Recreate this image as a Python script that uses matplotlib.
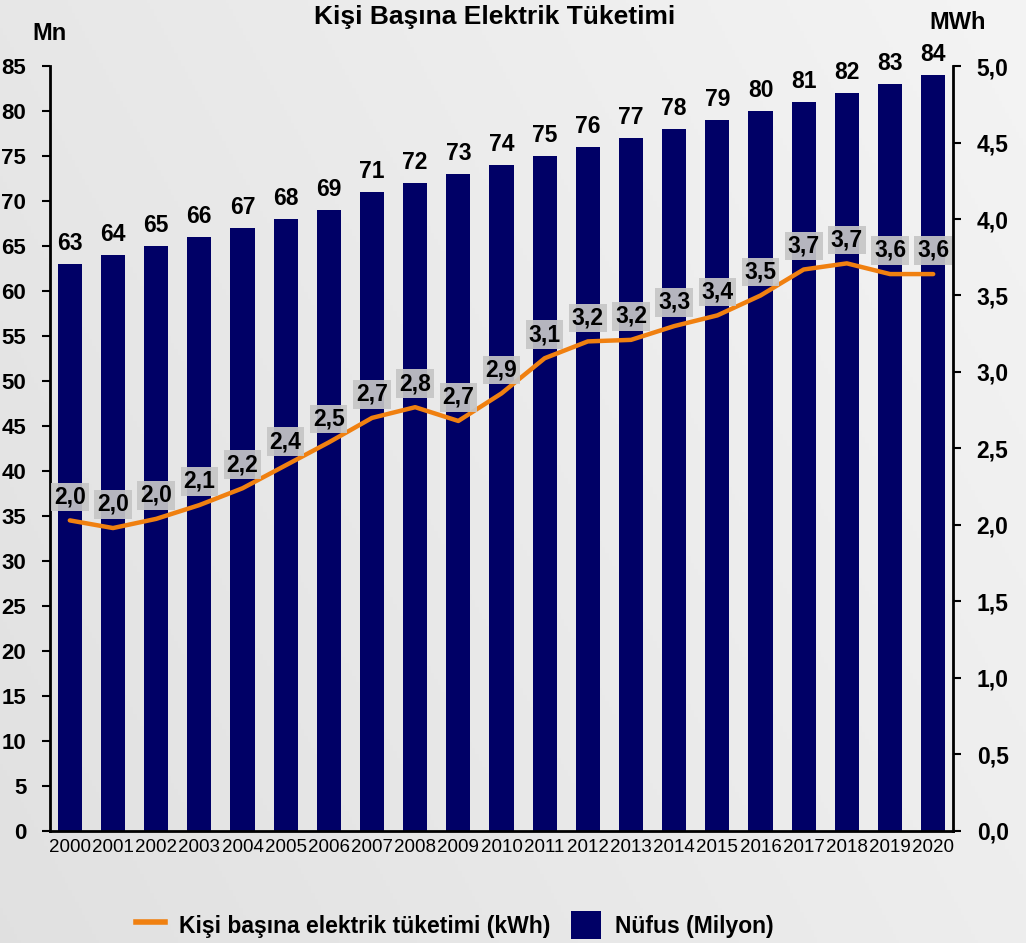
import numpy as np
import matplotlib
matplotlib.use("Agg")
import matplotlib.pyplot as plt
from matplotlib.patches import Rectangle
from matplotlib.lines import Line2D

plt.rcParams['font.family'] = ['Liberation Sans', 'DejaVu Sans']

# yillar, nufus (milyon) ve kisi basina tuketim (MWh)
years = [str(y) for y in range(2000, 2021)]
nufus = [63, 64, 65, 66, 67, 68, 69, 71, 72, 73, 74, 75, 76, 77, 78, 79, 80, 81, 82, 83, 84]
tuketim = [2.03, 1.98, 2.04, 2.13, 2.24, 2.39, 2.54, 2.70, 2.77, 2.68, 2.86,
           3.09, 3.20, 3.21, 3.30, 3.37, 3.50, 3.67, 3.71, 3.64, 3.64]

NAVY = '#000066'
ORANGE = '#f08010'

fig = plt.figure(figsize=(10.26, 9.43), dpi=100)

# arka plan: gri gradyan + ince capraz tarama
bg = fig.add_axes([0, 0, 1, 1], zorder=0)
gx = np.linspace(0, 1, 300)
gy = np.linspace(0, 1, 300)
GX, GY = np.meshgrid(gx, gy)
grad = 0.76 + 0.10 * GX + 0.05 * GY
bg.imshow(grad, cmap='gray', vmin=0, vmax=1, extent=[0, 1, 0, 1],
          aspect='auto', origin='lower')
plt.rcParams['hatch.linewidth'] = 1.0
bg.add_patch(Rectangle((0, 0), 1, 1, facecolor='none', edgecolor='white',
                       hatch='/' * 18, linewidth=0, alpha=0.5))
bg.set_xlim(0, 1)
bg.set_ylim(0, 1)
bg.axis('off')

ax = fig.add_axes([0.0487, 0.1188, 0.8802, 0.8112], zorder=1)
ax.patch.set_alpha(0)
x = np.arange(len(years))
ax.bar(x, nufus, width=0.56, color=NAVY, zorder=2)
for xi, v in zip(x, nufus):
    ax.annotate(str(v), (xi, v), xytext=(0, 15), textcoords='offset points',
                ha='center', va='center', fontsize=16.5, fontweight='bold')

ax.set_xlim(-0.46, len(years) - 0.54)
ax.set_ylim(0, 85)
ax.set_yticks(range(0, 86, 5))
ax.set_xticks(x)
ax.set_xticklabels(years, fontsize=13.5)
ax.tick_params(axis='x', length=0, pad=6)
ax.tick_params(axis='y', length=6, width=1.5, labelsize=16, pad=11)
for lab in ax.get_yticklabels():
    lab.set_fontweight('bold')
for s in ['top', 'right']:
    ax.spines[s].set_visible(False)
for s in ['left', 'bottom']:
    ax.spines[s].set_linewidth(2)

ax2 = ax.twinx()
ax2.set_zorder(3)
ax2.plot(x, tuketim, color=ORANGE, linewidth=3.2, solid_capstyle='round', zorder=3)
for xi, v in zip(x, tuketim):
    ax2.annotate(('%.1f' % v).replace('.', ','), (xi, v), xytext=(0, 17),
                 textcoords='offset points', ha='center', va='center',
                 fontsize=16.5, fontweight='bold', zorder=4,
                 bbox=dict(boxstyle='square,pad=0.12', facecolor='#c6c6c6',
                           edgecolor='none', alpha=0.92))
ax2.set_ylim(0, 5)
ax2.set_yticks(np.arange(0, 5.01, 0.5))
ax2.set_yticklabels([('%.1f' % t).replace('.', ',') for t in np.arange(0, 5.01, 0.5)],
                    fontsize=16.5, fontweight='bold')
ax2.tick_params(axis='y', length=6, width=1.5, pad=11)
for s in ['top', 'left', 'bottom']:
    ax2.spines[s].set_visible(False)
ax2.spines['right'].set_linewidth(2)

fig.text(0.482, 0.982, 'Kişi Başına Elektrik Tüketimi', ha='center', va='center',
         fontsize=19, fontweight='bold')
fig.text(0.048, 0.965, 'Mn', ha='center', va='center', fontsize=17, fontweight='bold')
fig.text(0.933, 0.976, 'MWh', ha='center', va='center', fontsize=17, fontweight='bold')

handles = [Line2D([], [], color=ORANGE, linewidth=4),
           Rectangle((0, 0), 1, 1, facecolor=NAVY)]
fig.legend(handles, ['Kişi başına elektrik tüketimi (kWh)', 'Nüfus (Milyon)'],
           loc='center', bbox_to_anchor=(0.443, 0.019), ncol=2, frameon=False,
           prop={'size': 16.5, 'weight': 'bold'}, handlelength=1.3,
           handleheight=1.5, columnspacing=0.9, handletextpad=0.6)

fig.savefig('out.png', dpi=100)
